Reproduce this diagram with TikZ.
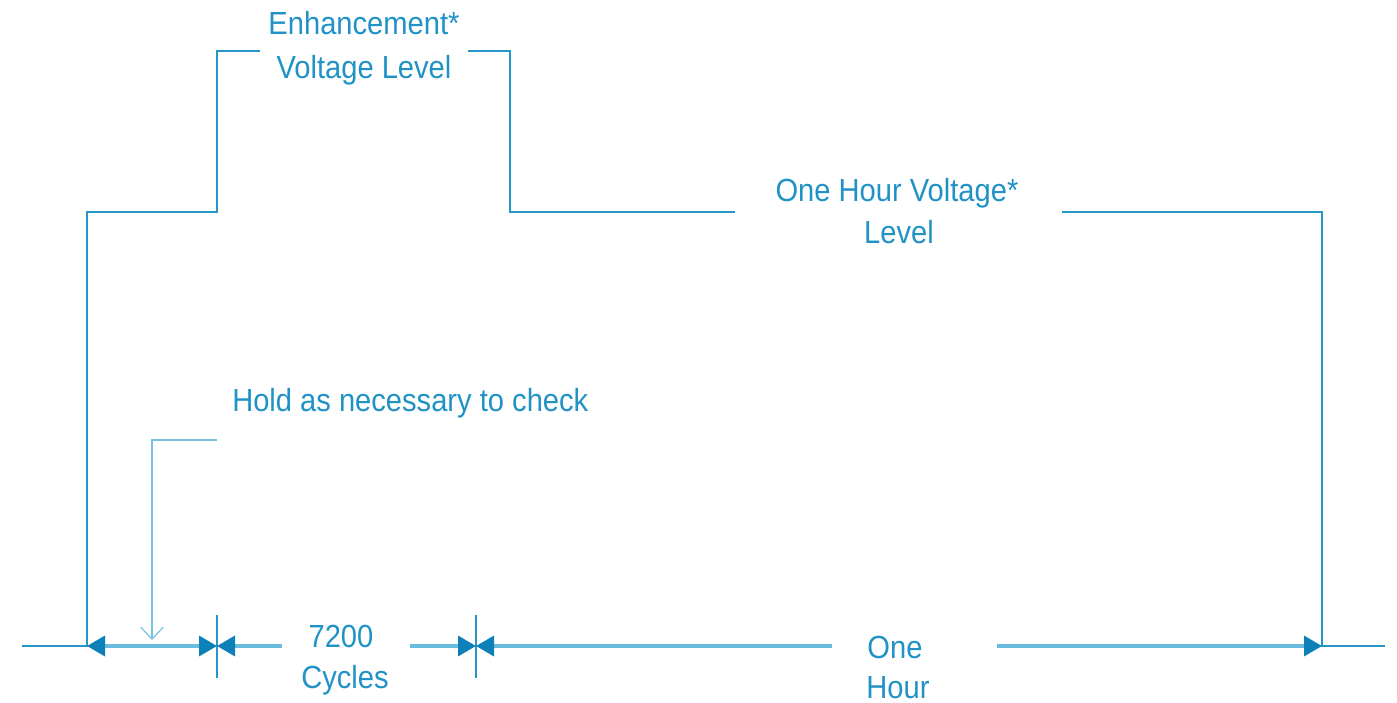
\documentclass[tikz,border=0pt]{standalone}
\usepackage{fontspec}
\setmainfont[FakeStretch=0.91]{Liberation Sans}
\usetikzlibrary{arrows.meta}
\definecolor{wave}{RGB}{38,150,200}
\definecolor{dimline}{RGB}{105,188,222}
\definecolor{tipcol}{RGB}{14,128,184}
\definecolor{labelcol}{RGB}{32,146,198}
\definecolor{leader}{RGB}{120,195,225}
\tikzset{
  wavestyle/.style={draw=wave, line width=1.6pt, line join=miter},
  dimstyle/.style={draw=dimline, line width=2.6pt},
  tickstyle/.style={draw=wave, line width=1.5pt},
  leaderstyle/.style={draw=leader, line width=0.9pt},
  solidtip/.tip={Triangle[length=13.5pt,width=15pt,color=tipcol]},
  opentip/.tip={Straight Barb[length=9pt,width=17pt,line width=0.9pt]},
  lbl/.style={text=labelcol, font=\fontsize{24}{28}\selectfont, inner sep=0pt, anchor=base},
}
\begin{document}
\begin{tikzpicture}[x=0.75pt,y=-0.75pt]
\useasboundingbox (0,0) rectangle (1397,703);

% labels
\node[lbl] (enhA) at (364,35) {Enhancement*};
\node[lbl] (enhB) at (364,78) {Voltage Level};
\node[lbl] (hourA) at (897,201) {One Hour Voltage*};
\node[lbl] (hourB) at (899,243) {Level};
\node[lbl, anchor=base west] (hold) at (232,411) {Hold as necessary to check};
\node[lbl] (cycA) at (341,647) {7200};
\node[lbl] (cycB) at (345,688) {Cycles};
\node[lbl] (oneA) at (895,658) {One};
\node[lbl] (oneB) at (898,698) {Hour};

% waveform corners
\coordinate (w0) at (22,646);
\coordinate (w1) at (87,646);
\coordinate (w2) at (87,212);
\coordinate (w3) at (217,212);
\coordinate (w4) at (217,51);
\coordinate (w5) at (260,51);
\coordinate (w6) at (468,51);
\coordinate (w7) at (510,51);
\coordinate (w8) at (510,212);
\coordinate (w9) at (735,212);
\coordinate (w10) at (1062,212);
\coordinate (w11) at (1322,212);
\coordinate (w12) at (1322,646);
\coordinate (w13) at (1385,646);

\draw[wavestyle] (w0) -- (w1) -- (w2) -- (w3) -- (w4) -- (w5);
\draw[wavestyle] (w6) -- (w7) -- (w8) -- (w9);
\draw[wavestyle] (w10) -- (w11) -- (w12) -- (w13);

% dimension marks
\coordinate (t1) at (217,646);
\coordinate (t2) at (476,646);
\draw[tickstyle] (217,615) -- (217,678);
\draw[tickstyle] (476,615) -- (476,678);

\coordinate (d1) at (282,646);
\coordinate (d2) at (410,646);
\coordinate (d3) at (832,646);
\coordinate (d4) at (997,646);

\draw[dimstyle, solidtip-solidtip] (w1) -- (t1);
\draw[dimstyle, -solidtip] (d1) -- (t1);
\draw[dimstyle, -solidtip] (d2) -- (t2);
\draw[dimstyle, -solidtip] (d3) -- (t2);
\draw[dimstyle, -solidtip] (d4) -- (w12);

% leader for the hold note
\coordinate (l0) at (217,440);
\coordinate (l1) at (152,440);
\coordinate (l2) at (152,640);
\draw[leaderstyle, -opentip] (l0) -- (l1) -- (l2);
\end{tikzpicture}
\end{document}
